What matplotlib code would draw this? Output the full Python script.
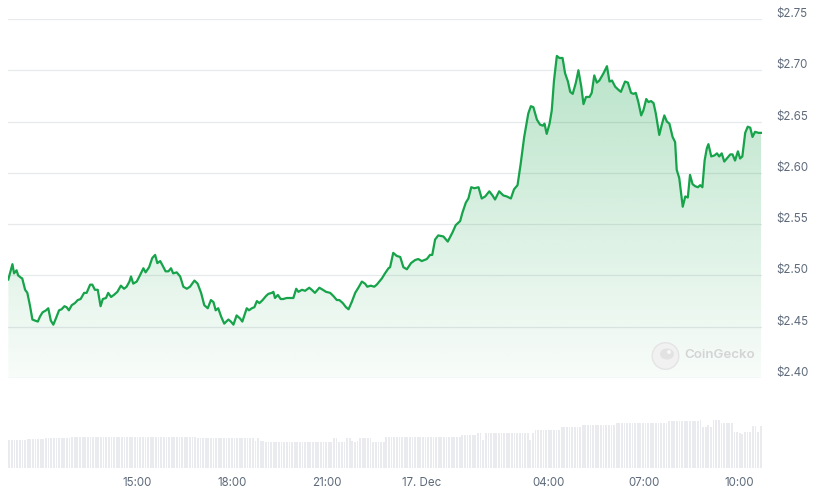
import numpy as np
import matplotlib
matplotlib.use("Agg")
import matplotlib.pyplot as plt
from matplotlib import transforms
from matplotlib.patches import Circle, Ellipse, Polygon
from matplotlib.colors import to_rgb

# ---------------- data (hours relative to 17 Dec 00:00, price in USD) ----------------
times_a = [-13.05, -12.92, -12.87, -12.79, -12.74, -12.66, -12.61, -12.52, -12.45, -12.37, -12.29, -12.21,
           -12.12, -12.05, -11.97, -11.86, -11.79, -11.71, -11.63, -11.55, -11.45, -11.37, -11.28, -11.21,
           -11.14, -11.05, -10.95, -10.86, -10.77, -10.66, -10.58, -10.47, -10.40, -10.32, -10.23, -10.14,
           -10.07, -9.97, -9.90, -9.81, -9.72, -9.61, -9.50, -9.40, -9.32, -9.23]
prices_a = [2.496, 2.511, 2.502, 2.505, 2.500, 2.498, 2.497, 2.486, 2.483, 2.471, 2.457, 2.456,
            2.455, 2.460, 2.464, 2.466, 2.468, 2.456, 2.452, 2.458, 2.466, 2.467, 2.470, 2.469,
            2.466, 2.471, 2.473, 2.476, 2.477, 2.483, 2.483, 2.491, 2.491, 2.486, 2.486, 2.470,
            2.477, 2.478, 2.483, 2.479, 2.481, 2.484, 2.490, 2.487, 2.489, 2.494]

times_b = [-9.18, -9.11, -9.00, -8.90, -8.79, -8.72, -8.61, -8.51, -8.42, -8.35, -8.26, -8.19,
           -8.09, -8.00, -7.92, -7.85, -7.74, -7.63, -7.53, -7.42, -7.32, -7.18, -7.08, -6.97,
           -6.87, -6.76, -6.66, -6.58, -6.51, -6.43, -6.34, -6.24, -6.11, -6.03, -5.95, -5.85,
           -5.74, -5.67, -5.53, -5.46, -5.37, -5.29]
prices_b = [2.499, 2.492, 2.494, 2.500, 2.507, 2.503, 2.508, 2.517, 2.520, 2.512, 2.514, 2.510,
            2.504, 2.504, 2.507, 2.502, 2.503, 2.499, 2.489, 2.487, 2.489, 2.495, 2.492, 2.483,
            2.471, 2.468, 2.476, 2.474, 2.466, 2.468, 2.460, 2.453, 2.457, 2.455, 2.452, 2.461,
            2.458, 2.455, 2.468, 2.466, 2.468, 2.469]

times_c = [-5.21, -5.13, -5.03, -4.92, -4.85, -4.74, -4.69, -4.64, -4.55, -4.46, -4.38, -4.27,
           -4.16, -4.06, -3.97, -3.90, -3.79, -3.69, -3.56, -3.48, -3.38, -3.24, -3.13, -3.03,
           -2.90, -2.80, -2.69, -2.61, -2.50, -2.40, -2.32, -2.22, -2.11, -2.01, -1.90, -1.80,
           -1.73, -1.62, -1.51, -1.43, -1.35]
prices_c = [2.475, 2.473, 2.476, 2.480, 2.482, 2.483, 2.484, 2.478, 2.481, 2.477, 2.477, 2.478,
            2.478, 2.478, 2.487, 2.484, 2.486, 2.485, 2.488, 2.486, 2.483, 2.488, 2.486, 2.484,
            2.483, 2.480, 2.476, 2.476, 2.473, 2.469, 2.467, 2.474, 2.483, 2.488, 2.494, 2.492,
            2.489, 2.490, 2.489, 2.491, 2.494]

times_d = [-1.27, -1.17, -1.06, -1.01, -0.91, -0.80, -0.69, -0.59, -0.48, -0.35, -0.22, -0.12,
           -0.01, 0.15, 0.25, 0.32, 0.41, 0.51, 0.67, 0.81, 0.96, 1.06, 1.20, 1.27,
           1.38, 1.46, 1.55, 1.65, 1.78, 1.88, 1.99, 2.12, 2.22, 2.30, 2.43]
prices_d = [2.497, 2.502, 2.507, 2.508, 2.522, 2.519, 2.518, 2.508, 2.506, 2.512, 2.515, 2.516,
            2.514, 2.516, 2.520, 2.520, 2.535, 2.539, 2.538, 2.533, 2.542, 2.549, 2.553, 2.561,
            2.571, 2.575, 2.586, 2.585, 2.586, 2.575, 2.577, 2.582, 2.578, 2.574, 2.582]

times_e = [2.56, 2.67, 2.80, 2.90, 3.01, 3.11, 3.22, 3.35, 3.43, 3.51, 3.62, 3.72,
           3.81, 3.86, 3.93, 4.02, 4.09, 4.16, 4.25, 4.33, 4.43, 4.51, 4.60, 4.67,
           4.75, 4.85, 4.93, 5.02, 5.09, 5.17, 5.28, 5.35, 5.43, 5.51, 5.59, 5.72,
           5.83, 5.91, 5.99, 6.09, 6.19, 6.27, 6.40, 6.49]
prices_e = [2.578, 2.577, 2.575, 2.584, 2.588, 2.609, 2.635, 2.658, 2.665, 2.664, 2.652, 2.647,
            2.646, 2.648, 2.638, 2.648, 2.661, 2.690, 2.714, 2.712, 2.712, 2.697, 2.689, 2.679,
            2.677, 2.688, 2.700, 2.684, 2.667, 2.674, 2.674, 2.678, 2.695, 2.688, 2.690, 2.697,
            2.704, 2.689, 2.690, 2.684, 2.681, 2.679, 2.689, 2.688]

times_f = [6.59, 6.67, 6.74, 6.82, 6.91, 6.98, 7.07, 7.14, 7.22, 7.30, 7.37, 7.48,
           7.56, 7.64, 7.72, 7.80, 7.90, 7.98, 8.03, 8.11, 8.17, 8.22, 8.30, 8.38,
           8.45, 8.53, 8.61, 8.70, 8.77, 8.84, 8.91, 8.98, 9.03, 9.12, 9.22, 9.30,
           9.37, 9.45, 9.53, 9.61, 9.72, 9.79, 9.87, 9.96, 10.03, 10.10, 10.19, 10.27,
           10.35, 10.42, 10.50, 10.61, 10.69]
prices_f = [2.678, 2.677, 2.678, 2.669, 2.656, 2.661, 2.672, 2.669, 2.670, 2.668, 2.658, 2.637,
            2.647, 2.656, 2.650, 2.648, 2.635, 2.630, 2.603, 2.595, 2.580, 2.567, 2.577, 2.576,
            2.598, 2.589, 2.587, 2.586, 2.588, 2.586, 2.612, 2.624, 2.628, 2.616, 2.617, 2.619,
            2.616, 2.619, 2.611, 2.614, 2.618, 2.618, 2.612, 2.621, 2.614, 2.616, 2.639, 2.645,
            2.644, 2.635, 2.640, 2.639, 2.639]

# total volume (USD billions), one bar per 5 minutes
volume = [
    2.8, 2.8, 2.8, 2.8, 2.8, 2.8, 2.8, 2.9, 2.9, 2.9, 2.9, 2.9, 2.9, 2.9, 3.0, 3.0, 3.0, 3.0, 3.0, 3.0, 3.0, 3.0, 3.0, 3.0,
    3.1, 3.1, 3.1, 3.1, 3.1, 3.1, 3.1, 3.1, 3.1, 3.1, 3.1, 3.1, 3.1, 3.1, 3.1, 3.1, 3.1, 3.1, 3.1, 3.1, 3.1, 3.1, 3.1, 3.1,
    3.1, 3.1, 3.1, 3.1, 3.1, 3.1, 3.1, 3.1, 3.1, 3.1, 3.1, 3.1, 3.1, 3.1, 3.1, 3.1, 3.1, 3.1, 3.1, 3.1, 3.1, 3.1, 3.1, 3.1,
    3.0, 3.0, 3.0, 3.0, 3.0, 3.0, 3.0, 3.0, 3.0, 3.0, 3.0, 3.0, 3.0, 3.0, 3.0, 3.0, 3.0, 3.0, 3.0, 3.0, 3.0, 3.0, 2.7, 3.0,
    2.7, 2.7, 2.6, 2.6, 2.6, 2.6, 2.6, 2.6, 2.6, 2.6, 2.6, 2.6, 2.6, 2.6, 2.6, 2.6, 2.6, 2.6, 2.6, 2.6, 2.6, 2.6, 2.6, 2.6,
    2.6, 2.6, 2.6, 2.6, 3.0, 3.0, 2.6, 2.6, 2.6, 3.0, 3.0, 2.7, 2.6, 2.7, 3.0, 3.0, 3.0, 3.0, 3.0, 2.6, 2.6, 2.6, 2.6, 2.6,
    3.1, 3.1, 3.1, 3.1, 3.1, 3.1, 3.1, 3.1, 3.1, 3.1, 3.1, 3.1, 3.1, 3.1, 3.1, 3.1, 3.1, 3.1, 3.1, 3.1, 3.1, 3.1, 3.1, 3.1,
    3.1, 3.1, 3.1, 3.1, 3.1, 3.3, 3.3, 3.3, 3.3, 3.3, 3.3, 3.5, 3.5, 2.8, 3.5, 3.5, 3.5, 3.5, 3.5, 3.5, 3.5, 3.5, 3.5, 3.5,
    3.5, 3.5, 3.5, 3.5, 3.5, 3.5, 3.5, 2.8, 3.5, 3.8, 3.8, 3.8, 3.8, 3.8, 3.8, 3.8, 3.8, 3.8, 3.8, 4.1, 4.1, 4.1, 4.1, 4.1,
    4.1, 4.1, 4.1, 4.3, 4.3, 4.3, 4.3, 4.3, 4.3, 4.3, 4.3, 4.3, 4.3, 4.3, 4.3, 4.3, 4.5, 4.5, 4.5, 4.5, 4.5, 4.5, 4.5, 4.5,
    4.5, 4.5, 4.5, 4.5, 4.5, 4.5, 4.5, 4.5, 4.5, 4.5, 4.5, 4.5, 4.7, 4.7, 4.7, 4.7, 4.7, 4.7, 4.7, 4.7, 4.7, 4.7, 4.7, 4.7,
    4.8, 4.1, 4.1, 4.3, 4.1, 4.8, 4.8, 4.8, 4.5, 4.5, 4.5, 4.5, 4.5, 3.6, 3.6, 3.5, 3.4, 3.6, 3.6, 3.6, 4.2, 4.2, 3.6, 4.2,
]

price_ticks = [2.40, 2.45, 2.50, 2.55, 2.60, 2.65, 2.70, 2.75]
time_ticks = [-9, -6, -3, 0, 4, 7, 10]
time_labels = ["15:00", "18:00", "21:00", "17. Dec", "04:00", "07:00", "10:00"]

times = times_a + times_b + times_c + times_d + times_e + times_f
prices = prices_a + prices_b + prices_c + prices_d + prices_e + prices_f
assert len(times) == len(prices)

# ---------------- style ----------------
W, H = 821, 496
GREEN = "#16a34a"
LABEL = "#5f6b7b"
GRID = "#e7e9ec"
BAR = "#e9ebee"
plt.rcParams['font.family'] = ['Inter', 'DejaVu Sans']

fig = plt.figure(figsize=(W / 100, H / 100), dpi=100)
fig.patch.set_facecolor("white")


def px_axes(x0, y0, x1, y1):
    return fig.add_axes([x0 / W, 1 - y1 / H, (x1 - x0) / W, (y1 - y0) / H])


XMIN, XMAX = -13.06, 10.72

# volume strip
ax_vol = px_axes(8, 398, 762, 468)
n = len(volume)
edges = np.linspace(XMIN, XMAX, n + 1)
step = edges[1] - edges[0]
ax_vol.bar(edges[:-1] + step / 2, volume, width=step * 0.68, color=BAR, linewidth=0)
ax_vol.set_xlim(XMIN, XMAX)
ax_vol.set_ylim(0, 7)
ax_vol.axis("off")

# price chart
ax = px_axes(8, 19, 762, 378)
ax.set_xlim(XMIN, XMAX)
ax.set_ylim(2.40, 2.75)
for s in ax.spines.values():
    s.set_visible(False)
ax.set_xticks([])
ax.set_yticks([])
ax.patch.set_alpha(0)

for p in price_ticks:
    ax.axhline(p, color=GRID, lw=0.9, zorder=0)

# gradient area fill
rgb = to_rgb(GREEN)
grad = np.zeros((256, 1, 4))
grad[..., 0], grad[..., 1], grad[..., 2] = rgb
grad[:, 0, 3] = np.linspace(0.30, 0.03, 256)
top = max(prices)
im = ax.imshow(grad, extent=[XMIN, XMAX, 2.40, top], aspect="auto", origin="upper",
               zorder=1, interpolation="bilinear")
verts = [(times[0], 2.40)] + list(zip(times, prices)) + [(times[-1], 2.40)]
poly = Polygon(verts, closed=True, facecolor="none", edgecolor="none", transform=ax.transData)
ax.add_patch(poly)
im.set_clip_path(poly)
ax.set_ylim(2.40, 2.75)
ax.set_xlim(XMIN, XMAX)

ax.plot(times, prices, color=GREEN, lw=1.6, zorder=3, solid_joinstyle="round")

# y labels on the right
ylab_tf = ax.get_yaxis_transform() + transforms.ScaledTranslation(0.145, 0.05, fig.dpi_scale_trans)
for p in price_ticks:
    ax.text(1.0, p, f"${p:.2f}", transform=ylab_tf, ha="left", va="center",
            fontsize=8.3, color=LABEL)

# x labels below volume strip
xlab_tf = ax_vol.get_xaxis_transform() + transforms.ScaledTranslation(0, -0.145, fig.dpi_scale_trans)
for t, lab in zip(time_ticks, time_labels):
    ax_vol.text(t, 0, lab, transform=xlab_tf, ha="center", va="center", fontsize=8.3, color=LABEL)

# CoinGecko watermark
wm = fig.add_axes([0, 0, 1, 1])
wm.set_xlim(0, W)
wm.set_ylim(H, 0)
wm.axis("off")
wm.patch.set_alpha(0)
wm.add_patch(Circle((665.5, 356), 13.3, facecolor="#f1f1f1", edgecolor="#e4e4e4", lw=1.0))
wm.add_patch(Ellipse((667, 354), 14, 11, facecolor="#e2e2e2", edgecolor="none"))
wm.add_patch(Circle((669, 352), 2.0, facecolor="#f7f7f7", edgecolor="none"))
wm.text(684, 355, "CoinGecko", fontsize=9.6, color="#d4d4d4", ha="left", va="center",
        fontweight="semibold")

fig.savefig("out.png", dpi=100, facecolor="white")
